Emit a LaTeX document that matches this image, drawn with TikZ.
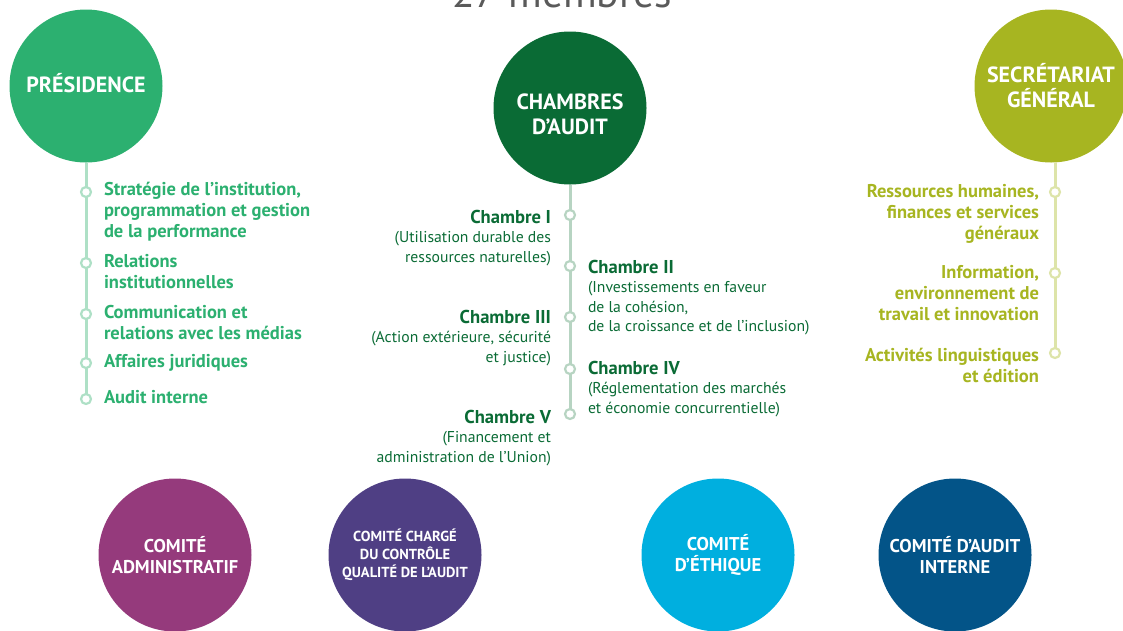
\documentclass[tikz,border=0pt]{standalone}
\usepackage{fontspec}
\setmainfont{PT Sans}
\usetikzlibrary{backgrounds}
\definecolor{cPres}{HTML}{2CB070}
\definecolor{cCham}{HTML}{0A6B35}
\definecolor{cSec}{HTML}{A7B521}
\definecolor{cAdm}{HTML}{953A7C}
\definecolor{cQual}{HTML}{4F3F84}
\definecolor{cEth}{HTML}{00AFDF}
\definecolor{cAud}{HTML}{035488}
\definecolor{lPres}{HTML}{AEE0C6}
\definecolor{lCham}{HTML}{B7D4C2}
\definecolor{lSec}{HTML}{DDE4A9}
\definecolor{cTitle}{HTML}{5A5A5A}
\newcommand{\hstrut}{\rule{0pt}{14pt}}
\tikzset{
  bigcirc/.style={circle, minimum size=153pt, inner sep=0pt, outer sep=0pt, text=white, align=center,
    font=\bfseries\fontsize{22}{25}\selectfont},
  smallcirc/.style={bigcirc, font=\bfseries\fontsize{18.5}{21}\selectfont},
  tinycirc/.style={bigcirc, font=\bfseries\fontsize{14.5}{18}\selectfont},
  dotmark/.style={circle, draw, fill=white, line width=2.2pt, minimum size=10pt, inner sep=0pt},
  vline/.style={line width=3pt},
  leftitem/.style={anchor=north west, inner sep=0pt, outer sep=0pt, align=left,
    font=\bfseries\fontsize{18.5}{21}\selectfont},
  rightitem/.style={anchor=north east, inner sep=0pt, outer sep=0pt, align=right,
    font=\bfseries\fontsize{18.5}{21}\selectfont},
  chl/.style={anchor=north east, inner sep=0pt, outer sep=0pt, align=right, text=cCham,
    font=\fontsize{15.7}{19.5}\selectfont},
  chr/.style={anchor=north west, inner sep=0pt, outer sep=0pt, align=left, text=cCham,
    font=\fontsize{15.7}{19.5}\selectfont},
}
\newcommand{\chhead}[1]{{\fontsize{18.6}{19.5}\selectfont\bfseries #1}}
\begin{document}
\begin{tikzpicture}[x=1pt,y=-1pt]
\useasboundingbox (0,0) rectangle (1123,630);
\clip (0,0) rectangle (1123,630);

% title (cut off at top)
\node[anchor=base, inner sep=0pt, text=cTitle, font=\fontsize{41.5}{42}\selectfont] (title) at (562,7) {27 membres};

% main circles
\node[bigcirc, fill=cPres] (pres) at (86,86) {PRÉSIDENCE\rule[-6pt]{0pt}{6pt}};
\node[bigcirc, fill=cCham] (cham) at (570,108) {\rule{0pt}{28pt}CHAMBRES\\D’AUDIT};
\node[bigcirc, fill=cSec] (sec) at (1051,86) {SECRÉTARIAT\\GÉNÉRAL};

% bottom circles
\node[smallcirc, fill=cAdm] (adm) at (175,555) {COMITÉ\\ADMINISTRATIF};
\node[tinycirc, fill=cQual] (qual) at (405,555) {COMITÉ CHARGÉ\\DU CONTRÔLE\\QUALITÉ DE L’AUDIT};
\node[smallcirc, fill=cEth] (eth) at (718,555) {COMITÉ\\D’ÉTHIQUE};
\node[smallcirc, fill=cAud] (aud) at (955,555) {COMITÉ D’AUDIT\\INTERNE};

% Présidence markers
\node[dotmark, draw=lPres] (p1) at (86,192) {};
\node[dotmark, draw=lPres] (p2) at (86,263) {};
\node[dotmark, draw=lPres] (p3) at (86,314) {};
\node[dotmark, draw=lPres] (p4) at (86,363) {};
\node[dotmark, draw=lPres] (p5) at (86,399) {};

% Chambres markers
\node[dotmark, draw=lCham] (c1) at (570,215) {};
\node[dotmark, draw=lCham] (c2) at (570,266) {};
\node[dotmark, draw=lCham] (c3) at (570,317) {};
\node[dotmark, draw=lCham] (c4) at (570,369) {};
\node[dotmark, draw=lCham] (c5) at (570,414) {};

% Secrétariat markers
\node[dotmark, draw=lSec] (s1) at (1055,192) {};
\node[dotmark, draw=lSec] (s2) at (1055,273) {};
\node[dotmark, draw=lSec] (s3) at (1055,353) {};

\begin{scope}[on background layer]
\draw[vline, lPres] (pres.south) -- (p5.center);
\draw[vline, lCham] (cham.south) -- (c5.center);
\draw[vline, lSec] (sec.south -| s1) -- (s3.center);
\end{scope}

% Présidence items
\node[leftitem, text=cPres] (pt1) at (104,181) {\hstrut Stratégie de l’institution,\\programmation et gestion\\de la performance};
\node[leftitem, text=cPres] (pt2) at (104,253) {\hstrut Relations\\institutionnelles};
\node[leftitem, text=cPres] (pt3) at (104,304) {\hstrut Communication et\\relations avec les médias};
\node[leftitem, text=cPres] (pt4) at (104,353) {\hstrut Affaires juridiques};
\node[leftitem, text=cPres] (pt5) at (104,389) {\hstrut Audit interne};

% Chambres items
\node[chl] (ct1) at (551,209) {\hstrut\chhead{Chambre I}\\(Utilisation durable des\\ressources naturelles)};
\node[chr] (ct2) at (588,259) {\hstrut\chhead{Chambre II}\\(Investissements en faveur\\de la cohésion,\\de la croissance et de l’inclusion)};
\node[chl] (ct3) at (551,309) {\hstrut\chhead{Chambre III}\\(Action extérieure, sécurité\\et justice)};
\node[chr] (ct4) at (588,360) {\hstrut\chhead{Chambre IV}\\(Réglementation des marchés\\et économie concurrentielle)};
\node[chl] (ct5) at (551,409) {\hstrut\chhead{Chambre V}\\(Financement et\\administration de l’Union)};

% Secrétariat items
\node[rightitem, text=cSec] (st1) at (1039,183) {\hstrut Ressources humaines,\\finances et services\\généraux};
\node[rightitem, text=cSec] (st2) at (1039,264) {\hstrut Information,\\environnement de\\travail et innovation};
\node[rightitem, text=cSec] (st3) at (1039,347) {\hstrut Activités linguistiques\\et édition};
\end{tikzpicture}
\end{document}
